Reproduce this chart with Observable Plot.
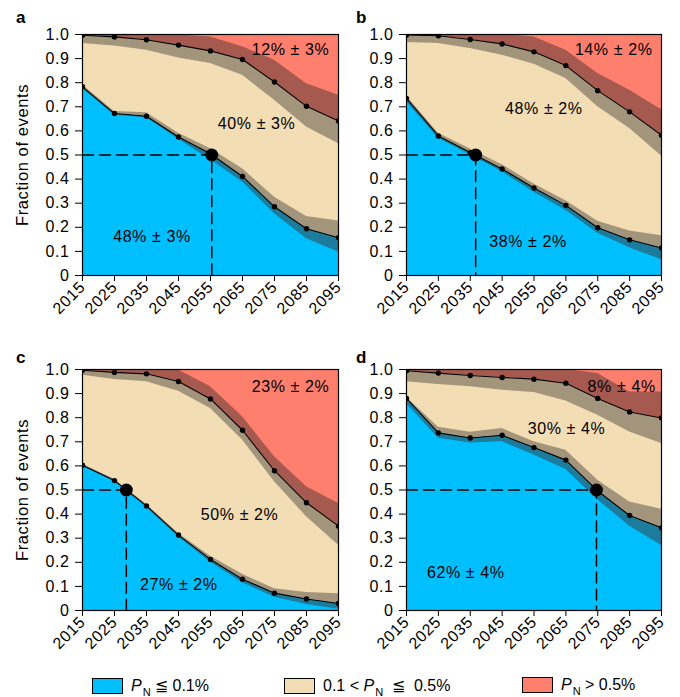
<!DOCTYPE html>
<html>
<head>
<meta charset="utf-8">
<script src="https://cdn.jsdelivr.net/npm/d3@7"></script>
<script src="https://cdn.jsdelivr.net/npm/@observablehq/plot@0.6"></script>
<style>
  html, body { margin: 0; padding: 0; background: #fff; }
  #fig { position: relative; width: 680px; height: 697px; font-family: "Liberation Sans", Arial, Helvetica, sans-serif; }
  .panel { position: absolute; }
  .letter { position: absolute; font-weight: bold; font-size: 17px; }
  #legend { position: absolute; top: 676px; left: 0; width: 680px; height: 18px; font-size: 16px; }
  .item { position: absolute; top: 0; display: flex; align-items: center; white-space: pre; }
  .sw { width: 29px; height: 14px; border: 1px solid #000; margin-right: 8px; }
  .it { font-style: italic; }
  .sub { font-size: 11px; position: relative; top: 6px; margin-left: 1px; }
</style>
</head>
<body>
<div id="fig"></div>
<script>
// ---------- data ----------
const years = [2015, 2025, 2035, 2045, 2055, 2065, 2075, 2085, 2095];
const yTicks = [0, 0.1, 0.2, 0.3, 0.4, 0.5, 0.6, 0.7, 0.8, 0.9, 1.0];
const threshold = 0.5;

// panel a
const aLow     = [0.783, 0.672, 0.661, 0.575, 0.505, 0.411, 0.285, 0.194, 0.157];
const aLowMin  = [0.775, 0.665, 0.655, 0.565, 0.480, 0.388, 0.256, 0.152, 0.097];
const aLowMax  = [0.790, 0.680, 0.675, 0.590, 0.526, 0.443, 0.325, 0.245, 0.226];
const aHigh    = [0.997, 0.990, 0.978, 0.956, 0.932, 0.896, 0.803, 0.702, 0.641];
const aHighMin = [0.963, 0.952, 0.935, 0.903, 0.880, 0.831, 0.727, 0.616, 0.547];
const aHighMax = [1.000, 1.000, 1.000, 0.998, 0.990, 0.949, 0.893, 0.796, 0.748];

// panel b
const bLow     = [0.735, 0.579, 0.510, 0.442, 0.363, 0.291, 0.198, 0.148, 0.114];
const bLowMin  = [0.720, 0.570, 0.500, 0.430, 0.345, 0.270, 0.175, 0.115, 0.065];
const bLowMax  = [0.745, 0.590, 0.525, 0.460, 0.380, 0.310, 0.225, 0.185, 0.165];
const bHigh    = [0.998, 0.995, 0.979, 0.961, 0.928, 0.871, 0.767, 0.679, 0.582];
const bHighMin = [0.967, 0.963, 0.942, 0.914, 0.877, 0.817, 0.700, 0.610, 0.496];
const bHighMax = [1.000, 1.000, 1.000, 1.000, 0.990, 0.935, 0.838, 0.769, 0.688];

// panel c
const cLow     = [0.603, 0.539, 0.434, 0.313, 0.212, 0.130, 0.072, 0.048, 0.029];
const cLowMin  = [0.598, 0.535, 0.428, 0.305, 0.200, 0.115, 0.055, 0.025, 0.005];
const cLowMax  = [0.607, 0.545, 0.440, 0.320, 0.225, 0.150, 0.090, 0.075, 0.070];
const cHigh    = [0.997, 0.988, 0.982, 0.950, 0.878, 0.748, 0.580, 0.447, 0.350];
const cHighMin = [0.976, 0.959, 0.949, 0.910, 0.838, 0.707, 0.534, 0.389, 0.271];
const cHighMax = [1.000, 1.000, 1.000, 0.998, 0.928, 0.804, 0.638, 0.513, 0.444];

// panel d
const dLow     = [0.880, 0.737, 0.716, 0.727, 0.676, 0.624, 0.496, 0.394, 0.343];
const dLowMin  = [0.859, 0.715, 0.695, 0.700, 0.645, 0.585, 0.460, 0.350, 0.270];
const dLowMax  = [0.885, 0.760, 0.740, 0.755, 0.700, 0.665, 0.540, 0.450, 0.420];
const dHigh    = [0.995, 0.985, 0.975, 0.967, 0.960, 0.943, 0.880, 0.824, 0.799];
const dHighMin = [0.949, 0.938, 0.928, 0.914, 0.905, 0.869, 0.810, 0.741, 0.693];
const dHighMax = [1.000, 1.000, 1.000, 1.000, 1.000, 1.000, 0.983, 0.907, 0.907];

// year where lower boundary crosses 0.5 (panels a, b, c, d)
const crossYears = [2055.4, 2036.7, 2028.7, 2074.6];

// share labels: [red, tan, blue] per panel, with anchor in data coordinates
const shareText = [
  ["12% ± 3%", "40% ± 3%", "48% ± 3%"],
  ["14% ± 2%", "48% ± 2%", "38% ± 2%"],
  ["23% ± 2%", "50% ± 2%", "27% ± 2%"],
  ["8% ± 4%",  "30% ± 4%", "62% ± 4%"]
];
const shareYear = [
  [2080.0, 2069.4, 2036.7],
  [2080.0, 2058.1, 2053.1],
  [2080.0, 2064.1, 2045.1],
  [2082.5, 2065.2, 2033.6]
];
const shareValue = [
  [0.935, 0.630, 0.160],
  [0.935, 0.693, 0.139],
  [0.928, 0.396, 0.105],
  [0.928, 0.755, 0.156]
];
const panelLetters = ["a", "b", "c", "d"];
const yLabel = "Fraction of events";
const legendLabels = ["≦ 0.1%", "0.1 < ", "  ≦  0.5%", " > 0.5%"];

// ---------- styles ----------
const C = {
  blue: "#00BFFF", tan: "#F3DDB5", red: "#FF7F6F",
  dBlue: "#1D7C9C", brown: "#A3957B", dRed: "#A5594F"
};
const font = `"Liberation Sans", Arial, Helvetica, sans-serif`;

function panel(idx, low, lowMin, lowMax, high, highMin, highMax, opts) {
  const rows = years.map((year, i) => ({
    year, low: low[i], lowMin: lowMin[i], lowMax: lowMax[i],
    high: high[i], highMin: highMin[i], highMax: highMax[i]
  }));
  const cx = crossYears[idx];
  const dash = [
    {year: years[0], v: threshold},
    {year: cx, v: threshold},
    {year: cx, v: 0}
  ];
  const labs = shareText[idx].map((t, i) => ({t, x: shareYear[idx][i], y: shareValue[idx][i]}));
  const marks = [
    Plot.areaY(rows, {x: "year", y1: () => 0, y2: "low", fill: C.blue}),
    Plot.areaY(rows, {x: "year", y1: "low", y2: "high", fill: C.tan}),
    Plot.areaY(rows, {x: "year", y1: "high", y2: () => 1, fill: C.red}),
    Plot.areaY(rows, {x: "year", y1: "lowMin", y2: "low", fill: C.dBlue}),
    Plot.areaY(rows, {x: "year", y1: "low", y2: "lowMax", fill: C.brown}),
    Plot.areaY(rows, {x: "year", y1: "highMin", y2: "high", fill: C.brown}),
    Plot.areaY(rows, {x: "year", y1: "high", y2: "highMax", fill: C.dRed}),
    Plot.line(dash, {x: "year", y: "v", stroke: "black", strokeWidth: 1.5, strokeDasharray: "11,6"}),
    Plot.line(rows, {x: "year", y: "low", stroke: "black", strokeWidth: 1.1}),
    Plot.line(rows, {x: "year", y: "high", stroke: "black", strokeWidth: 1.1}),
    Plot.dot(rows, {x: "year", y: "low", r: 2.7, fill: "black", stroke: null, clip: true}),
    Plot.dot(rows, {x: "year", y: "high", r: 2.7, fill: "black", stroke: null, clip: true}),
    Plot.dot([{year: cx, v: threshold}], {x: "year", y: "v", r: 6.5, fill: "black", stroke: null}),
    Plot.text(labs, {x: "x", y: "y", text: "t", fontSize: 16, fill: "black", letterSpacing: "0.4px"}),
    Plot.frame({stroke: "black", strokeWidth: 1.2})
  ];
  if (opts.yLabel) {
    marks.push(Plot.text([yLabel], {frameAnchor: "left", text: d => d, rotate: -90, dx: -60,
      textAnchor: "middle", lineAnchor: "middle", fontSize: 16.5}));
  }
  return Plot.plot({
    width: 340, height: 330,
    marginLeft: opts.ml, marginRight: opts.mr, marginTop: 34, marginBottom: 55,
    x: {domain: [2015, 2095], ticks: years, tickFormat: d => String(d), tickRotate: -45,
        tickSize: 6, tickPadding: 3, label: null},
    y: {domain: [0, 1], ticks: yTicks, tickFormat: d => d === 0 ? "0" : d.toFixed(1),
        tickSize: 7, tickPadding: 6, label: null},
    style: {fontFamily: font, fontSize: "16px", overflow: "visible", background: "transparent", letterSpacing: "0.6px"},
    marks
  });
}

const fig = document.getElementById("fig");
const specs = [
  {left: 0,   top: 0,   data: [aLow, aLowMin, aLowMax, aHigh, aHighMin, aHighMax], ml: 82, mr: 2,  yLabel: true},
  {left: 340, top: 0,   data: [bLow, bLowMin, bLowMax, bHigh, bHighMin, bHighMax], ml: 66, mr: 19, yLabel: false},
  {left: 0,   top: 335, data: [cLow, cLowMin, cLowMax, cHigh, cHighMin, cHighMax], ml: 82, mr: 2,  yLabel: true},
  {left: 340, top: 335, data: [dLow, dLowMin, dLowMax, dHigh, dHighMin, dHighMax], ml: 66, mr: 19, yLabel: false}
];
specs.forEach((s, i) => {
  const svg = panel(i, ...s.data, s);
  svg.classList.add("panel");
  svg.style.left = s.left + "px";
  svg.style.top = s.top + "px";
  fig.appendChild(svg);
  const l = document.createElement("div");
  l.className = "letter";
  l.textContent = panelLetters[i];
  l.style.left = (s.left + 16) + "px";
  l.style.top = (s.top + 8 + (i >= 2 ? 5 : 0)) + "px";
  fig.appendChild(l);
});

// legend
const legend = document.createElement("div");
legend.id = "legend";
legend.innerHTML = `
  <div class="item" style="left:92px"><div class="sw" style="background:${C.blue}"></div><span class="it">P</span><span class="sub">N</span><span> ${legendLabels[0]}</span></div>
  <div class="item" style="left:284px"><div class="sw" style="background:${C.tan}"></div><span>${legendLabels[1]}</span><span class="it">P</span><span class="sub">N</span><span>${legendLabels[2]}</span></div>
  <div class="item" style="left:522px"><div class="sw" style="background:${C.red}"></div><span class="it">P</span><span class="sub">N</span><span>${legendLabels[3]}</span></div>
`;
fig.appendChild(legend);
</script>
</body>
</html>
